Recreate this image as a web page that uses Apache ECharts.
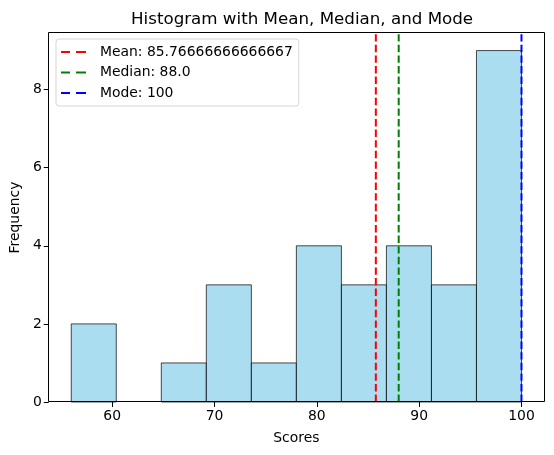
<!DOCTYPE html>
<html>
<head>
<meta charset="utf-8">
<script src="https://cdn.jsdelivr.net/npm/echarts@6/dist/echarts.min.js"></script>
<style>html,body{margin:0;padding:0;background:#fff}#c{width:554px;height:455px}</style>
</head>
<body>
<div id="c"></div>
<script>
const binEdges = [56, 60.4, 64.8, 69.2, 73.6, 78, 82.4, 86.8, 91.2, 95.6, 100];
const counts = [2, 0, 1, 3, 1, 4, 3, 4, 3, 9];
const meanValue = 85.76666666666667;
const medianValue = 88.0;
const modeValue = 100;
const xTicks = [60, 70, 80, 90, 100];
const yTicks = [0, 2, 4, 6, 8];

const FONT = 'DejaVu Sans';
const xMin = 53.8, xMax = 102.2, yMax = 9.45;

const barData = counts.map((c, i) => [binEdges[i], binEdges[i + 1], c]);
const DASH_ICON = 'path://M0,0h9v2h-9z M15,0h10v2h-10z';

const chart = echarts.init(document.getElementById('c'), null, {renderer: 'canvas'});
function vline(name, v, color) {
  return {
    name: name, type: 'line', data: [[v, 0], [v, yMax]],
    symbol: 'none', z: 5, silent: true,
    lineStyle: {color: color, width: 2, type: [7.4, 3.2]},
    itemStyle: {color: color}
  };
}
const names = ['Mean: ' + meanValue, 'Median: ' + medianValue.toFixed(1), 'Mode: ' + modeValue];
chart.setOption({
  animation: false,
  backgroundColor: '#fff',
  title: {
    text: 'Histogram with Mean, Median, and Mode',
    left: 126, top: 6,
    textStyle: {fontFamily: FONT, fontSize: 16.7, fontWeight: 'normal', color: '#000'}
  },
  grid: {left: 48, right: 10, top: 33, bottom: 53, containLabel: false},
  legend: {
    orient: 'vertical', left: 56, top: 39,
    padding: [6, 6, 6, 5],
    itemWidth: 25, itemHeight: 3, itemGap: 6.5,
    backgroundColor: 'rgba(255,255,255,0.8)',
    borderColor: '#d6d6d6', borderWidth: 1, borderRadius: 3,
    itemStyle: {opacity: 1},
    textStyle: {fontFamily: FONT, fontSize: 13.9, color: '#000', padding: [0, 0, 0, 9], lineHeight: 14},
    data: names.map(n => ({name: n, icon: DASH_ICON}))
  },
  xAxis: {
    type: 'value', min: xMin, max: xMax,
    name: 'Scores', nameLocation: 'middle', nameGap: 29,
    nameTextStyle: {fontFamily: FONT, fontSize: 13.9, color: '#000'},
    axisLine: {show: false},
    axisTick: {show: true, length: 5, lineStyle: {color: '#000'}, customValues: xTicks},
    axisLabel: {fontFamily: FONT, fontSize: 13.9, color: '#000', margin: 7, customValues: xTicks},
    splitLine: {show: false}
  },
  yAxis: {
    type: 'value', min: 0, max: yMax,
    name: 'Frequency', nameLocation: 'middle', nameGap: 22, nameRotate: 90,
    nameTextStyle: {fontFamily: FONT, fontSize: 13.9, color: '#000'},
    axisLine: {show: false},
    axisTick: {show: true, length: 5, lineStyle: {color: '#000'}, customValues: yTicks},
    axisLabel: {fontFamily: FONT, fontSize: 13.9, color: '#000', margin: 7, customValues: yTicks},
    splitLine: {show: false}
  },
  graphic: [{
    type: 'rect', z: 100, silent: true,
    shape: {x: 48.5, y: 32.5, width: 554 - 10 - 48, height: 455 - 53 - 33},
    style: {fill: 'none', stroke: '#000', lineWidth: 1}
  }],
  series: [
    {
      type: 'custom', name: 'hist', silent: true, z: 2,
      data: barData,
      encode: {x: [0, 1], y: 2},
      renderItem: function (params, api) {
        if (api.value(2) === 0) return null;
        const p0 = api.coord([api.value(0), api.value(2)]);
        const p1 = api.coord([api.value(1), 0]);
        return {
          type: 'rect',
          shape: {x: p0[0], y: p0[1], width: p1[0] - p0[0], height: p1[1] - p0[1]},
          style: {fill: 'rgba(135,206,235,0.7)', stroke: 'rgba(0,0,0,0.7)', lineWidth: 1}
        };
      }
    },
    vline(names[0], meanValue, '#ff0000'),
    vline(names[1], medianValue, '#008000'),
    vline(names[2], modeValue, '#0000ff')
  ]
});
</script>
</body>
</html>
